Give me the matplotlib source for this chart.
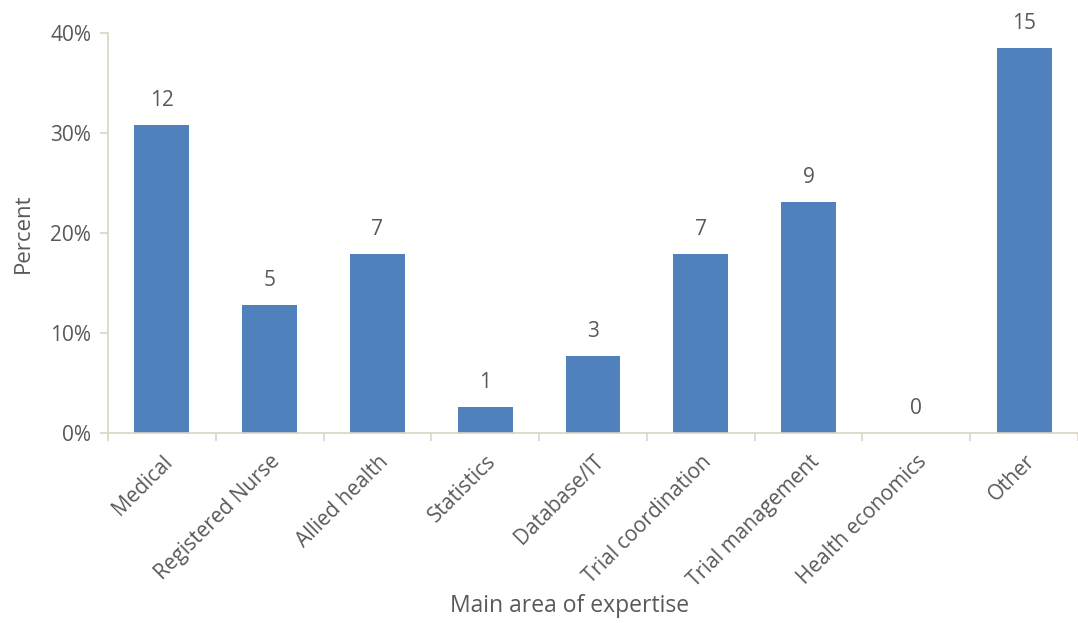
import matplotlib.pyplot as plt
from matplotlib.ticker import FuncFormatter, FixedLocator

categories = ['Medical', 'Registered Nurse', 'Allied health', 'Statistics', 'Database/IT',
              'Trial coordination', 'Trial management', 'Health economics', 'Other']
percent = [30.8, 12.8, 17.9, 2.6, 7.7, 17.9, 23.1, 0.0, 38.5]
counts = [12, 5, 7, 1, 3, 7, 9, 0, 15]

plt.rcParams['font.family'] = ['Open Sans', 'DejaVu Sans']
text_col = '#595959'
axis_col = '#D9D5C0'
bar_col = '#4F81BD'

fig = plt.figure(figsize=(10.78, 6.23), dpi=100)
ax = fig.add_axes([108 / 1078, 190 / 623, 970 / 1078, 400 / 623])

x = range(len(categories))
bars = ax.bar(x, [p / 100 for p in percent], width=0.51, color=bar_col)

for i, (p, c) in enumerate(zip(percent, counts)):
    ax.annotate(str(c), (i, p / 100), xytext=(0, 10), textcoords='offset points',
                ha='center', va='bottom', fontsize=15, color=text_col)

ax.set_xlim(-0.5, len(categories) - 0.5)
ax.set_ylim(0, 0.4)
ax.set_yticks([0, 0.1, 0.2, 0.3, 0.4])
ax.yaxis.set_major_formatter(FuncFormatter(lambda v, _: f'{v * 100:.0f}%'))

ax.set_xticks(list(x))
ax.set_xticklabels(categories, rotation=45, ha='right', rotation_mode='anchor')
ax.xaxis.set_minor_locator(FixedLocator([i - 0.5 for i in range(len(categories) + 1)]))
ax.tick_params(axis='x', which='major', length=0, pad=13, labelsize=15, labelcolor=text_col)
ax.tick_params(axis='x', which='minor', length=6, width=1.2, color=axis_col, direction='out')
ax.tick_params(axis='y', length=6, width=1.2, color=axis_col, labelsize=15, labelcolor=text_col, pad=6)

for s in ['top', 'right']:
    ax.spines[s].set_visible(False)
for s in ['left', 'bottom']:
    ax.spines[s].set_color(axis_col)
    ax.spines[s].set_linewidth(1.2)

ax.set_ylabel('Percent', fontsize=16, color=text_col, labelpad=12)
ax.set_xlabel('Main area of expertise', fontsize=16.5, color=text_col)
ax.xaxis.set_label_coords(0.476, -0.402)

fig.savefig('out.png', dpi=100)
